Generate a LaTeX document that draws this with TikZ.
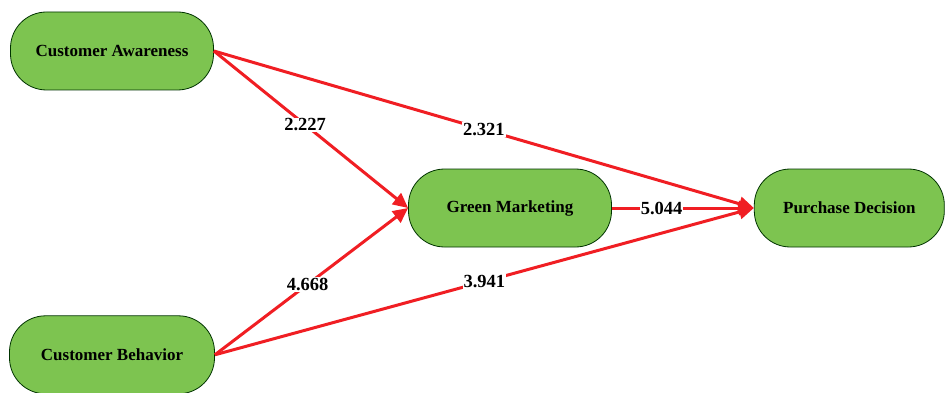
\documentclass[tikz,border=0pt]{standalone}
\usepackage{fontspec}
\setmainfont{Liberation Serif}
\usetikzlibrary{positioning,arrows.meta}

\definecolor{boxgreen}{RGB}{125,196,80}
\definecolor{pathred}{RGB}{240,30,35}

\begin{document}
\begin{tikzpicture}
  [
      x=1pt, y=1pt,
      construct/.style={rectangle, rounded corners=36pt, draw=black!80!green, line width=0.8pt,
        fill=boxgreen, minimum height=78pt, minimum width=#1,
        font=\bfseries\fontsize{17}{19}\selectfont},
      path arrow/.style={draw=pathred, line width=3pt,
        -{Triangle[length=15pt,width=14pt,fill=pathred]}},
      coef/.style={fill=white, inner sep=1pt, font=\bfseries\fontsize{18.5}{20}\selectfont},
    ]
    \useasboundingbox (0,0) rectangle (945,-393);

    \node (ca) [construct=203pt] at (112,-51) {Customer Awareness};
    \node (cb) [below=225pt of ca, construct=205pt] {Customer Behavior};
    \node (gm) [construct=203pt] at (510,-208) {Green Marketing};
    \node (pd) [right=142pt of gm, construct=190pt] {Purchase Decision};

    % paths with coefficients
    \foreach \i/\j/\p/\v in {ca/gm/0.47/2.227, ca/pd/0.5/2.321, cb/gm/0.48/4.668,
                             cb/pd/0.5/3.941, gm/pd/0.35/5.044}
      \draw [path arrow] (\i.east) -- node [coef, pos=\p] {\v} (\j.west);
  \end{tikzpicture}
\end{document}
